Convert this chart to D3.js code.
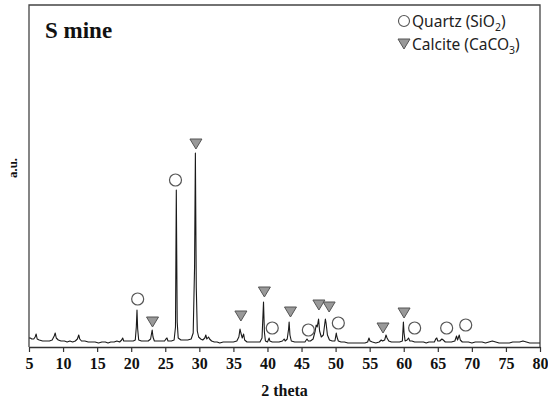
<!DOCTYPE html>
<html><head><meta charset="utf-8">
<script src="https://cdn.jsdelivr.net/npm/d3@7"></script>
<style>body{margin:0;background:#fff}svg{display:block}</style>
</head><body><div id="c"></div>
<script>
const twoTheta = [5.0,5.2,5.4,5.7,5.9,6.05,6.2,6.5,7.0,7.5,8.0,8.4,8.7,8.85,9.0,9.3,9.7,10.2,10.6,11.0,11.4,11.8,12.1,12.3,12.45,12.7,13.2,13.7,14.2,14.7,15.2,15.7,16.2,16.6,17.0,17.5,17.9,18.3,18.6,18.75,18.9,19.3,19.8,20.3,20.6,20.75,20.85,20.95,21.1,21.5,22.0,22.5,22.85,23.0,23.08,23.2,23.4,23.9,24.4,24.9,25.1,25.25,25.4,25.9,26.3,26.5,26.62,26.75,26.9,27.3,27.8,28.3,28.8,29.1,29.3,29.42,29.55,29.7,29.9,30.2,30.5,30.8,30.95,31.1,31.35,31.5,31.8,32.2,32.6,33.0,33.5,34.0,34.5,35.0,35.5,35.8,35.97,36.1,36.3,36.5,36.65,37.0,37.5,38.0,38.5,38.9,39.2,39.42,39.55,39.7,40.0,40.25,40.35,40.7,41.2,41.7,42.2,42.45,42.6,42.9,43.1,43.18,43.3,43.5,44.0,44.5,45.0,45.5,45.8,46.0,46.3,46.7,47.0,47.15,47.3,47.5,47.65,47.9,48.2,48.5,48.6,48.8,49.1,49.5,49.9,50.1,50.2,50.4,50.8,51.3,51.8,52.3,52.8,53.3,53.8,54.3,54.7,54.9,55.05,55.4,55.9,56.4,56.7,56.9,57.2,57.4,57.55,57.8,58.2,58.6,59.0,59.4,59.8,59.95,60.05,60.2,60.5,60.7,60.9,61.2,61.6,62.0,62.4,62.9,63.3,63.7,64.1,64.5,64.7,64.85,65.0,65.3,65.6,65.8,66.1,66.6,67.0,67.5,67.75,67.9,68.15,68.3,68.6,69.0,69.5,70.0,70.5,71.0,71.5,72.0,72.5,73.0,73.5,74.0,74.5,75.0,75.5,76.0,76.5,77.0,77.5,78.0,78.5,79.0,79.5,80.0];
const intensity = [9,9,8,8,10,13,8,7,6,6,6,7,11,14,9,7,6,6,5,6,5,6,8,12,8,6,6,5,5,5,4,5,5,4,5,5,6,5,7,9,6,6,6,6,7,20,37,18,7,6,6,6,8,14,17,10,6,6,6,6,8,9,6,6,7,20,157,25,9,7,7,7,8,14,80,194,60,16,10,8,7,9,12,8,10,8,6,5,5,4,5,5,5,5,6,10,18,14,9,13,7,5,5,5,5,5,9,45,15,6,5,9,6,5,5,5,6,8,6,8,18,25,12,6,5,5,5,5,8,6,6,8,16,22,20,28,16,10,12,28,24,12,7,6,6,14,10,6,5,5,4,4,4,4,4,4,5,9,6,5,4,5,7,6,7,12,9,6,5,5,5,5,6,25,14,6,7,9,6,6,5,5,5,5,4,5,5,5,8,9,6,6,8,7,5,5,5,6,11,7,12,7,5,5,5,4,5,5,5,4,5,6,5,4,4,4,4,5,5,5,6,5,4,4,4,4];
const quartzTheta = [20.95,26.5,40.7,46.0,50.4,61.6,66.3,69.1];
const quartzLevel = [48,167,19,17,24,19,19,22];
const calciteTheta = [23.13,29.5,36.1,39.55,43.38,47.55,49.05,56.96,60.05];
const calciteLevel = [25,203,31,55,35,42,40,19,34];
const xTicks = [5,10,15,20,25,30,35,40,45,50,55,60,65,70,75,80];
const legendLabels = [["Quartz (SiO","2",")"],["Calcite (CaCO","3",")"]];

const W=548,H=402;
const svg=d3.select("#c").append("svg").attr("width",W).attr("height",H);
const x=d3.scaleLinear().domain([5,80]).range([29,540]);
const y=d3.scaleLinear().domain([0,342]).range([347,5]);

svg.append("path").attr("d",`M${x(5)},${y(0)}V${y(342)}H${x(80)}V${y(0)}`)
  .attr("fill","none").attr("stroke","#444").attr("stroke-width",1.3);

const pts=twoTheta.map((t,i)=>[t,intensity[i]]);
svg.append("path").datum(pts)
  .attr("d",d3.line().x(d=>x(d[0])).y(d=>y(d[1])))
  .attr("fill","none").attr("stroke","#1a1a1a").attr("stroke-width",1.1).attr("stroke-linejoin","round");

const ax=svg.append("g").attr("transform",`translate(0,${y(0)})`)
  .call(d3.axisBottom(x).tickValues(xTicks).tickSize(5).tickSizeOuter(0).tickPadding(6).tickFormat(d3.format("d")));
ax.select(".domain").attr("stroke","#333").attr("stroke-width",1.3);
ax.selectAll(".tick line").attr("stroke","#333").attr("stroke-width",1.2);
ax.selectAll("text").attr("font-family","'Liberation Serif',serif").attr("font-weight","bold").attr("font-size",16).attr("fill","#111");

const tri=(cx,cy)=>`M${cx-6},${cy-5}L${cx+6},${cy-5}L${cx},${cy+5}Z`;
svg.append("g").selectAll("circle").data(quartzTheta).join("circle")
  .attr("cx",d=>x(d)).attr("cy",(d,i)=>y(quartzLevel[i])).attr("r",6)
  .attr("fill","#fff").attr("stroke","#555").attr("stroke-width",1.2);
svg.append("g").selectAll("path").data(calciteTheta).join("path")
  .attr("d",(d,i)=>tri(x(d),y(calciteLevel[i])))
  .attr("fill","#999").attr("stroke","#555").attr("stroke-width",1);

svg.append("text").attr("x",45).attr("y",38).text("S mine")
  .attr("font-family","'Liberation Serif',serif").attr("font-weight","bold").attr("font-size",23).attr("fill","#111");
svg.append("text").attr("x",x(42.5)).attr("y",396).attr("text-anchor","middle").text("2 theta")
  .attr("font-family","'Liberation Serif',serif").attr("font-weight","bold").attr("font-size",16).attr("fill","#111");
svg.append("text").attr("transform","translate(17,168) rotate(-90)").attr("text-anchor","middle").text("a.u.")
  .attr("font-family","'Liberation Serif',serif").attr("font-weight","bold").attr("font-size",13).attr("fill","#111");

const lg=svg.append("g");
lg.append("circle").attr("cx",404).attr("cy",21).attr("r",5.5).attr("fill","#fff").attr("stroke","#555").attr("stroke-width",1.1);
lg.append("path").attr("d",`M398,39L410,39L404,49Z`).attr("fill","#999").attr("stroke","#555").attr("stroke-width",1);
legendLabels.forEach((l,i)=>{
  const t=lg.append("text").attr("x",412).attr("y",27+i*23)
    .attr("font-family","'Noto Sans',sans-serif").attr("font-size",15.5).attr("fill","#222");
  t.append("tspan").text(l[0]);
  t.append("tspan").attr("dy",3.5).attr("font-size",10.5).text(l[1]);
  t.append("tspan").attr("dy",-3.5).text(l[2]);
});
</script></body></html>
